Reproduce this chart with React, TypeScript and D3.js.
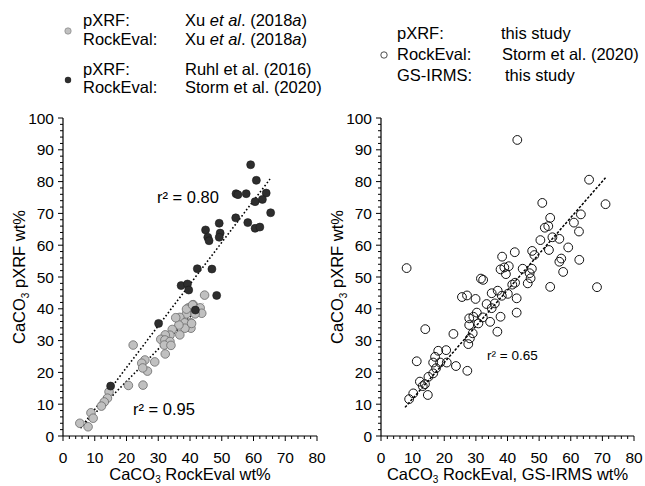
import React, { useEffect, useRef } from 'react';
import * as d3 from 'd3';

// Xu et al. (2018a) pXRF vs RockEval (grey dots)
const xuPoints = [
  [44.6, 44.3], [39.5, 40.3], [41.0, 41.3], [43.2, 40.3], [43.7, 38.6], [41.6, 38.4], [38.9, 38.4],
  [36.8, 37.3], [40.2, 35.6], [38.3, 35.6], [40.3, 33.9], [38.4, 33.9], [36.5, 34.9], [34.4, 33.5],
  [33.7, 31.7], [32.2, 31.8], [30.8, 30.4], [32.1, 30.2], [33.7, 29.7], [31.9, 28.6], [34.0, 28.5],
  [32.2, 25.8], [22.1, 28.6], [25.8, 23.9], [24.8, 22.9], [28.9, 23.3], [26.6, 20.4], [25.1, 21.4],
  [20.6, 15.9], [25.2, 16.0], [14.5, 13.9], [14.0, 11.9], [13.0, 10.7], [12.1, 9.4], [8.8, 7.3],
  [9.5, 5.6], [5.3, 4.0], [7.9, 2.9], [35.5, 37.2], [36.8, 31.8], [40.5, 35.4], [38.9, 39.9], [40.8, 41.2],
];

// Ruhl et al. (2016) pXRF vs Storm et al. (2020) RockEval (black dots)
const ruhlPoints = [
  [59.1, 85.3], [60.9, 80.4], [54.5, 76.2], [55.1, 75.9], [57.7, 76.2], [64.0, 76.4], [62.8, 74.4],
  [60.5, 73.7], [65.4, 70.2], [54.4, 68.6], [58.2, 67.1], [60.5, 65.3], [62.0, 65.7], [49.2, 66.9],
  [44.9, 64.8], [45.6, 62.5], [46.0, 61.4], [49.5, 63.8], [49.2, 62.5], [42.3, 52.6], [46.9, 52.5],
  [37.2, 47.3], [39.2, 47.8], [39.6, 45.9], [48.4, 44.2], [30.1, 35.4], [41.7, 39.6], [15.0, 15.7],
];

// this study (open circles)
const studyPoints = [
  [65.8, 80.6], [71.0, 72.9], [51.0, 73.3], [63.2, 69.7], [61.0, 67.1], [62.6, 64.3], [53.5, 68.6],
  [51.8, 65.5], [52.9, 66.0], [50.4, 61.6], [54.2, 62.5], [56.4, 62.0], [59.2, 59.3], [53.1, 58.5],
  [47.8, 58.2], [48.5, 56.9], [42.3, 57.8], [38.3, 56.4], [57.0, 55.8], [56.4, 54.8], [62.7, 55.4],
  [57.6, 51.6], [8.1, 52.8], [37.8, 52.4], [39.0, 53.0], [40.4, 53.4], [39.5, 50.9], [44.8, 52.6],
  [47.7, 52.6], [47.0, 51.2], [47.3, 49.6], [46.4, 48.0], [42.4, 48.2], [41.5, 47.6], [31.6, 49.5],
  [32.3, 49.1], [53.5, 46.9], [68.3, 46.8], [27.2, 44.2], [25.6, 43.7], [29.9, 43.1], [35.0, 44.9],
  [36.9, 45.7], [38.2, 44.1], [40.1, 44.7], [42.9, 43.3], [43.1, 93.1],
  [42.9, 38.8], [37.8, 37.5], [36.8, 32.8], [34.5, 35.9], [33.4, 41.5], [35.0, 40.2], [36.0, 41.7],
  [32.2, 37.3], [30.3, 38.8], [29.2, 37.5], [27.9, 37.0], [30.8, 35.4], [27.9, 34.9], [29.0, 32.3],
  [28.1, 30.7], [27.6, 28.9], [14.0, 33.6], [22.9, 32.1], [18.1, 26.8], [20.6, 27.0], [17.1, 24.9],
  [16.5, 23.1], [18.7, 23.1], [20.8, 23.1], [11.3, 23.5], [23.7, 22.0], [27.3, 20.5], [17.4, 21.3],
  [16.5, 19.7], [15.0, 18.6], [12.3, 17.1], [13.9, 16.3], [13.2, 15.7], [10.2, 13.4], [14.8, 12.9],
  [8.9, 11.6],
];

// regression lines (end points)
const fitXu = [[5.5, 2.5], [44.2, 41.7]];
const fitAll = [[5.5, 2.5], [65.2, 80.8]];
const fitStudy = [[7.6, 9.0], [71.0, 81.2]];

const xTicks = [0, 10, 20, 30, 40, 50, 60, 70, 80];
const yTicks = [0, 10, 20, 30, 40, 50, 60, 70, 80, 90, 100];
const xMinor = d3.range(0, 81, 2);
const yMinor = d3.range(0, 101, 2);

const legendLeft = [
  { label: 'pXRF:', value: ['Xu ', { i: 'et al' }, '. (2018', { i: 'a' }, ')'] },
  { label: 'RockEval:', value: ['Xu ', { i: 'et al' }, '. (2018', { i: 'a' }, ')'] },
  { label: 'pXRF:', value: ['Ruhl et al. (2016)'] },
  { label: 'RockEval:', value: ['Storm et al. (2020)'] },
];
const legendRight = [
  { label: 'pXRF:', value: 'this study' },
  { label: 'RockEval:', value: 'Storm et al. (2020)' },
  { label: 'GS-IRMS:', value: 'this study' },
];

const FONT = '"Liberation Sans", Arial, Helvetica, sans-serif';
const W = 645;
const H = 486;

function drawAxes(g, x, y, xTitle, yTitleX) {
  const [x0] = x.range();
  const [y0] = y.range();

  g.append('line').attr('x1', x0).attr('x2', x0).attr('y1', y(0)).attr('y2', y(100)).attr('stroke', '#000').attr('stroke-width', 1.2);
  g.append('line').attr('x1', x(0)).attr('x2', x(80)).attr('y1', y0).attr('y2', y0).attr('stroke', '#000').attr('stroke-width', 1.2);

  g.selectAll('.ytick').data(yMinor).enter().append('line')
    .attr('x1', x0).attr('x2', (d) => x0 - (d % 10 === 0 ? 5 : 3))
    .attr('y1', (d) => y(d)).attr('y2', (d) => y(d))
    .attr('stroke', '#000').attr('stroke-width', 1);
  g.selectAll('.xtick').data(xMinor).enter().append('line')
    .attr('y1', y0).attr('y2', (d) => y0 + (d % 10 === 0 ? 5 : 3))
    .attr('x1', (d) => x(d)).attr('x2', (d) => x(d))
    .attr('stroke', '#000').attr('stroke-width', 1);

  g.selectAll('.ylab').data(yTicks).enter().append('text')
    .attr('x', x0 - 9).attr('y', (d) => y(d)).attr('dy', '0.36em')
    .attr('text-anchor', 'end').attr('font-size', 15.5).text((d) => d);
  g.selectAll('.xlab').data(xTicks).enter().append('text')
    .attr('x', (d) => x(d)).attr('y', y0 + 27)
    .attr('text-anchor', 'middle').attr('font-size', 15.5).text((d) => d);

  // x title
  const xt = g.append('text').attr('x', (x(0) + x(80)) / 2).attr('y', y0 + 44)
    .attr('text-anchor', 'middle').attr('font-size', 16.5);
  xt.append('tspan').text('CaCO');
  xt.append('tspan').attr('font-size', 10).attr('dy', 3).text('3');
  xt.append('tspan').attr('dy', -3).text(' ' + xTitle);

  // y title
  const yt = g.append('text')
    .attr('transform', `translate(${yTitleX},${(y(0) + y(100)) / 2}) rotate(-90)`)
    .attr('text-anchor', 'middle').attr('font-size', 16.5);
  yt.append('tspan').text('CaCO');
  yt.append('tspan').attr('font-size', 10).attr('dy', 4).text('3');
  yt.append('tspan').attr('dy', -4).text(' pXRF wt%');
}

function drawFit(g, x, y, pts, dash, width) {
  const line = d3.line().x((d) => x(d[0])).y((d) => y(d[1]));
  g.append('path').attr('d', line(pts)).attr('fill', 'none').attr('stroke', '#000')
    .attr('stroke-width', width).attr('stroke-dasharray', dash);
}

const App = () => {
  const svgRef = useRef();

  useEffect(() => {
    const svg = d3.select(svgRef.current);
    svg.selectAll('*').remove();
    svg.attr('font-family', FONT);

    const y = d3.scaleLinear().domain([0, 100]).range([436, 118]);
    const xL = d3.scaleLinear().domain([0, 80]).range([63, 317]);
    const xR = d3.scaleLinear().domain([0, 80]).range([381, 634]);

    // ---- left panel
    const gl = svg.append('g');
    drawAxes(gl, xL, y, 'RockEval wt%', 25);
    drawFit(gl, xL, y, fitAll, '1.6,2.2', 1.6);
    drawFit(gl, xL, y, fitXu, '1.6,2.2', 1.6);

    gl.selectAll('.xu').data(xuPoints).enter().append('circle')
      .attr('cx', (d) => xL(d[0])).attr('cy', (d) => y(d[1])).attr('r', 4.3)
      .attr('fill', '#c0c0c0').attr('stroke', '#6a6a6a').attr('stroke-width', 0.8);
    gl.selectAll('.ruhl').data(ruhlPoints).enter().append('circle')
      .attr('cx', (d) => xL(d[0])).attr('cy', (d) => y(d[1])).attr('r', 4)
      .attr('fill', '#2e2e2e').attr('stroke', '#1a1a1a').attr('stroke-width', 0.6);

    gl.append('text').attr('x', 157).attr('y', 203).attr('font-size', 16.5).text('r² = 0.80');
    gl.append('text').attr('x', 133).attr('y', 415).attr('font-size', 16.5).text('r² = 0.95');

    // ---- right panel
    const gr = svg.append('g');
    drawAxes(gr, xR, y, 'RockEval, GS-IRMS wt%', 343);
    drawFit(gr, xR, y, fitStudy, '2.6,1.6', 1.5);
    gr.selectAll('.study').data(studyPoints).enter().append('circle')
      .attr('cx', (d) => xR(d[0])).attr('cy', (d) => y(d[1])).attr('r', 4.4)
      .attr('fill', 'none').attr('stroke', '#111').attr('stroke-width', 1);
    gr.append('text').attr('x', 487).attr('y', 360).attr('font-size', 13.5).text('r² = 0.65');

    // ---- legends
    const lg = svg.append('g').attr('font-size', 16.5);
    const leftBase = [26, 45, 75, 93];
    legendLeft.forEach((row, i) => {
      lg.append('text').attr('x', 83).attr('y', leftBase[i]).text(row.label);
      const t = lg.append('text').attr('x', 185).attr('y', leftBase[i]);
      row.value.forEach((part) => {
        if (typeof part === 'string') t.append('tspan').text(part);
        else t.append('tspan').attr('font-style', 'italic').text(part.i);
      });
    });
    lg.append('circle').attr('cx', 68).attr('cy', 31).attr('r', 3.2)
      .attr('fill', '#c0c0c0').attr('stroke', '#777').attr('stroke-width', 0.6);
    lg.append('circle').attr('cx', 68).attr('cy', 80).attr('r', 3.2).attr('fill', '#2e2e2e');

    const rightBase = [39, 60, 81];
    const rightValX = [501, 502, 505];
    legendRight.forEach((row, i) => {
      lg.append('text').attr('x', 397).attr('y', rightBase[i]).text(row.label);
      lg.append('text').attr('x', rightValX[i]).attr('y', rightBase[i]).text(row.value);
    });
    lg.append('circle').attr('cx', 384).attr('cy', 55).attr('r', 3.2)
      .attr('fill', 'none').attr('stroke', '#222').attr('stroke-width', 0.8);
  }, []);

  return (
    <div style={{ position: 'absolute', left: 0, top: 0, width: W, height: H, background: '#fff' }}>
      <svg ref={svgRef} width={W} height={H} />
    </div>
  );
};

export default App;
